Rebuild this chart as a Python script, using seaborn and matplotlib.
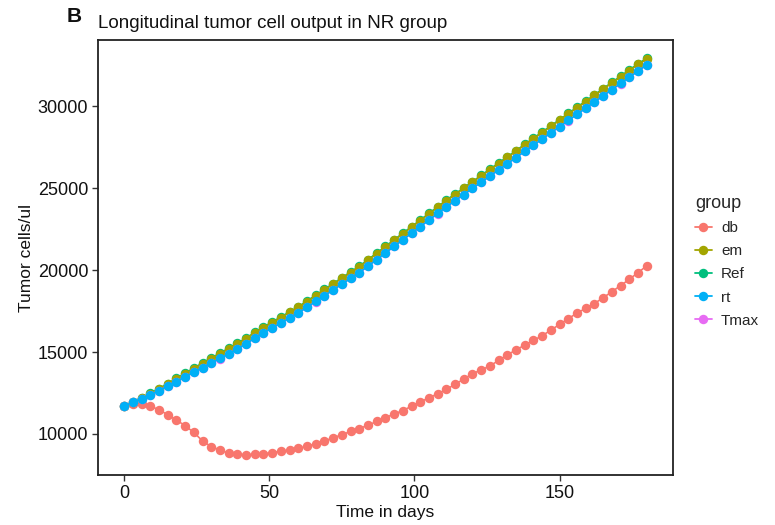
import numpy as np
import pandas as pd
import matplotlib
matplotlib.use("Agg")
import matplotlib.pyplot as plt
import seaborn as sns
from matplotlib.lines import Line2D

days = list(range(0, 181, 3))

db = [11700, 11800, 11820, 11680, 11490, 11160, 10850, 10500, 10090, 9570,
      9220, 9020, 8820, 8770, 8720, 8760, 8780, 8860, 8940, 9020,
      9120, 9240, 9400, 9570, 9760, 9950, 10150, 10330, 10530, 10760,
      11000, 11210, 11430, 11690, 11960, 12200, 12450, 12720, 13030, 13350,
      13680, 13910, 14150, 14490, 14830, 15130, 15430, 15710, 16000, 16340,
      16690, 17040, 17380, 17670, 17960, 18320, 18680, 19060, 19440, 19850,
      20260]

rt = [11700, 11930, 12160, 12390, 12650, 12920, 13200, 13490, 13770, 14050,
      14330, 14610, 14895, 15185, 15515, 15845, 16175, 16475, 16780, 17085,
      17390, 17740, 18090, 18445, 18800, 19150, 19500, 19850, 20250, 20650,
      21055, 21455, 21860, 22260, 22660, 23065, 23465, 23870, 24245, 24620,
      25000, 25375, 25750, 26130, 26505, 26880, 27260, 27635, 28015, 28390,
      28765, 29145, 29520, 29900, 30275, 30650, 31030, 31405, 31785, 32160,
      32540]

em = [11700, 11950, 12200, 12460, 12750, 13050, 13360, 13680, 13990, 14300,
      14600, 14900, 15195, 15490, 15825, 16160, 16495, 16800, 17110, 17420,
      17730, 18085, 18440, 18795, 19150, 19505, 19855, 20205, 20610, 21010,
      21415, 21820, 22225, 22625, 23030, 23435, 23840, 24245, 24620, 25000,
      25380, 25755, 26135, 26515, 26890, 27270, 27650, 28030, 28405, 28785,
      29160, 29540, 29920, 30295, 30675, 31055, 31435, 31810, 32190, 32570,
      32900]

ref = [11700, 11955, 12210, 12475, 12770, 13075, 13390, 13710, 14020, 14335,
       14635, 14935, 15230, 15525, 15860, 16195, 16530, 16835, 17145, 17455,
       17765, 18120, 18475, 18830, 19185, 19540, 19890, 20240, 20645, 21045,
       21450, 21855, 22260, 22660, 23065, 23470, 23875, 24280, 24655, 25035,
       25415, 25790, 26170, 26550, 26925, 27305, 27685, 28065, 28440, 28820,
       29195, 29575, 29955, 30330, 30710, 31090, 31470, 31845, 32225, 32605,
       32935]

tmax = [11695, 11925, 12155, 12385, 12645, 12915, 13195, 13485, 13765, 14045,
        14325, 14605, 14890, 15180, 15510, 15840, 16170, 16470, 16775, 17080,
        17385, 17735, 18085, 18440, 18795, 19145, 19495, 19845, 20245, 20645,
        21050, 21450, 21855, 22255, 22655, 23060, 23460, 23865, 24240, 24615,
        24995, 25370, 25745, 26125, 26500, 26875, 27255, 27630, 28010, 28385,
        28760, 29140, 29515, 29895, 30270, 30645, 31025, 31400, 31780, 32155,
        32535]

groups = ["db", "em", "Ref", "rt", "Tmax"]
colors = ["#F8766D", "#A3A500", "#00BF7D", "#00B0F6", "#E76BF3"]
series = {"db": db, "em": em, "Ref": ref, "rt": rt, "Tmax": tmax}

frames = []
for g in groups:
    vals = series[g]
    assert len(vals) == len(days), (g, len(vals))
    frames.append(pd.DataFrame({"time": days, "value": vals, "group": g}))
df = pd.concat(frames, ignore_index=True)

sns.set_theme(style="white")
plt.rcParams["font.family"] = ["Liberation Sans", "DejaVu Sans"]

fig = plt.figure(figsize=(7.75, 5.25), dpi=100)
ax = fig.add_axes([0.1265, 0.0952, 0.7416, 0.8286])

MS = 6.8
sns.lineplot(data=df, x="time", y="value", hue="group", hue_order=groups,
             palette=colors, marker="o", markersize=MS, markeredgewidth=0,
             linewidth=1.2, ax=ax, legend=False)

zorders = {"db": 2, "em": 3, "Ref": 2.5, "rt": 4, "Tmax": 3.5}
for line, g in zip(ax.lines, groups):
    line.set_zorder(zorders[g])

ax.set_xlim(-9, 189)
ax.set_ylim(7490, 34060)
ax.set_xticks([0, 50, 100, 150])
ax.set_yticks([10000, 15000, 20000, 25000, 30000])
ax.tick_params(axis="both", which="both", direction="out", length=4, width=1,
               color="#333333", labelsize=13, labelcolor="#111111", pad=3,
               left=True, bottom=True)
for s in ax.spines.values():
    s.set_visible(True)
    s.set_color("#222222")
    s.set_linewidth(1.3)

ax.set_xlabel("Time in days", fontsize=12.5, color="#111111", labelpad=2)
ax.set_ylabel("Tumor cells/ul", fontsize=12.5, color="#111111", labelpad=3)
ax.set_title("Longitudinal tumor cell output in NR group", loc="left",
             fontsize=13.5, color="#111111", pad=9)

fig.text(0.086, 0.969, "B", fontsize=15, fontweight="bold", color="#111111",
         ha="left", va="center")

handles = [Line2D([0], [0], color=c, marker="o", markersize=MS,
                  markeredgewidth=0, linewidth=1.3) for c in colors]
leg = fig.legend(handles, groups, title="group", loc="upper left",
                 bbox_to_anchor=(0.879, 0.655), frameon=False,
                 fontsize=11, title_fontsize=13, handlelength=1.1,
                 handletextpad=0.6, labelspacing=0.6, alignment="left")

fig.savefig("out.png", dpi=100, facecolor="white")
